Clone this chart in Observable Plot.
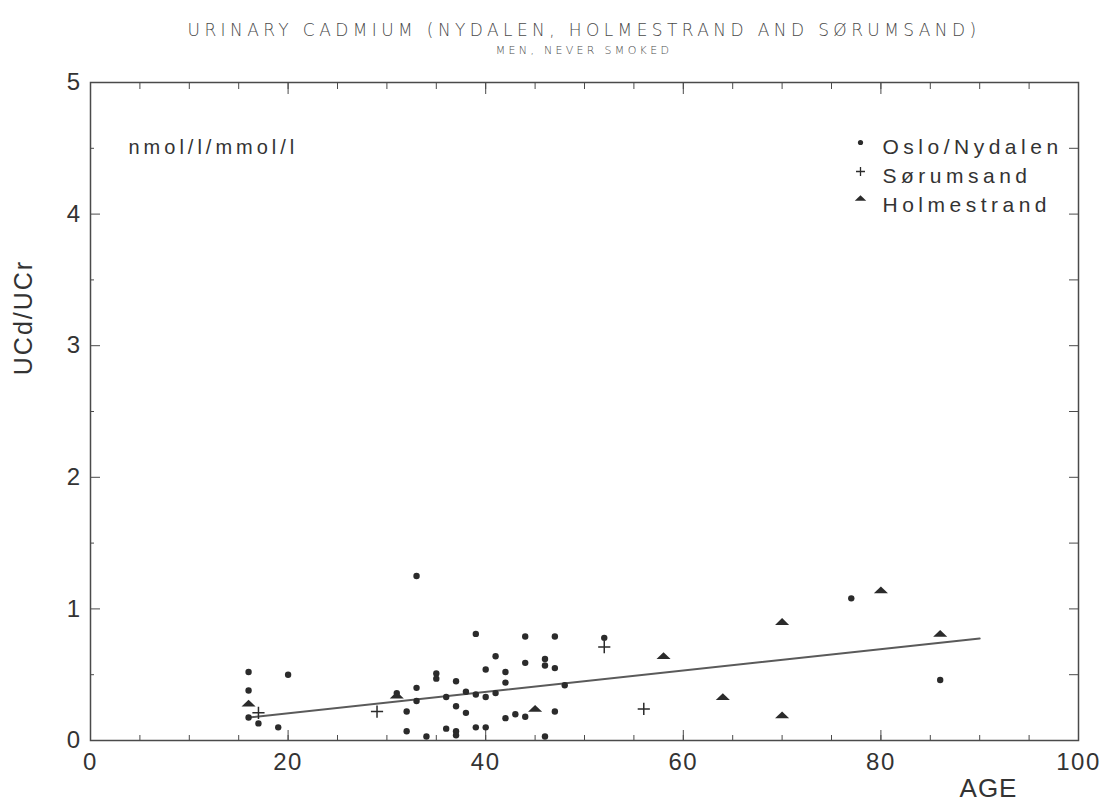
<!DOCTYPE html>
<html>
<head>
<meta charset="utf-8">
<script src="https://cdn.jsdelivr.net/npm/d3@7"></script>
<script src="https://cdn.jsdelivr.net/npm/@observablehq/plot@0.6"></script>
<style>
  body { margin: 0; background: white; }
  #wrap { position: relative; width: 1107px; height: 809px; }
  .abs { position: absolute; white-space: nowrap; line-height: 1; text-align: center; font-family: "DejaVu Sans", sans-serif; color: #4a4a4a; }
  #title { left: 90px; width: 988px; top: 22px; font-size: 17px; letter-spacing: 4.4px; font-weight: 200; }
  #subtitle { left: 90px; width: 988px; top: 45px; font-size: 11px; letter-spacing: 3.3px; font-weight: 300; }
  g[aria-label="x-axis tick label"] text, g[aria-label="y-axis tick label"] text { letter-spacing: 1.5px; }
</style>
</head>
<body>
<div id="wrap">
  <div id="chart"></div>
  <div id="title" class="abs">URINARY CADMIUM (NYDALEN, HOLMESTRAND AND SØRUMSAND)</div>
  <div id="subtitle" class="abs">MEN, NEVER SMOKED</div>
</div>
<script>
// ---- data ----
const osloAge = [16, 16, 16, 17, 19, 20, 31, 32, 32, 33, 33, 33, 34, 35, 35, 36, 36, 37, 37, 37, 37, 38, 38, 39, 39, 39, 40, 40, 40, 41, 41, 42, 42, 42, 43, 44, 44, 44, 46, 46, 46, 47, 47, 47, 48, 52, 77, 86];
const osloVal = [0.52, 0.38, 0.175, 0.13, 0.10, 0.50, 0.36, 0.22, 0.07, 0.40, 0.30, 1.25, 0.03, 0.51, 0.47, 0.33, 0.09, 0.45, 0.26, 0.07, 0.04, 0.37, 0.21, 0.81, 0.35, 0.10, 0.54, 0.33, 0.10, 0.64, 0.36, 0.52, 0.44, 0.17, 0.20, 0.79, 0.59, 0.18, 0.62, 0.57, 0.03, 0.79, 0.55, 0.22, 0.42, 0.78, 1.08, 0.46];
const sorAge = [17, 29, 52, 56];
const sorVal = [0.21, 0.22, 0.71, 0.24];
const holAge = [16, 31, 45, 58, 64, 70, 70, 80, 86];
const holVal = [0.28, 0.34, 0.24, 0.64, 0.33, 0.90, 0.19, 1.14, 0.81];
const fitAge = [16, 90];
const fitVal = [0.175, 0.775];

const xTickLabels = [0, 20, 40, 60, 80, 100];
const xMinorTicks = d3.range(5, 100, 5);
const xMajorTicks = [20, 40, 60, 80];
const yTickLabels = [0, 1, 2, 3, 4, 5];
const yHalfTicks = [0.5, 1.5, 2.5, 3.5, 4.5];
const yRightTicks = d3.range(0.5, 5, 0.5);

const seriesNames = ["Oslo/Nydalen", "Sørumsand", "Holmestrand"];
const unitLabel = "nmol/l/mmol/l";
const yLabel = "UCd/UCr";
const xLabel = "AGE";

const toRows = (ages, vals) => ages.map((a, i) => ({age: a, v: vals[i]}));
const oslo = toRows(osloAge, osloVal);
const sor = toRows(sorAge, sorVal);
const hol = toRows(holAge, holVal);
const fit = toRows(fitAge, fitVal);

// flattened triangle like the plotter glyph
const flatTriangle = {
  draw(context, size) {
    const h = Math.sqrt(size);
    context.moveTo(-0.75 * h, 0.3 * h);
    context.lineTo(0.75 * h, 0.3 * h);
    context.lineTo(0, -0.42 * h);
    context.closePath();
  }
};

const blank = () => "";
const ink = "#2b2b2b";
const axisInk = "#4a4a4a";

const chart = Plot.plot({
  width: 1107,
  height: 809,
  marginLeft: 90,
  marginRight: 29,
  marginTop: 82,
  marginBottom: 69,
  x: {domain: [0, 100]},
  y: {domain: [0, 5]},
  style: {fontFamily: "'Liberation Sans', Arial, sans-serif", fontSize: "24px", color: "#333", background: "white"},
  marks: [
    Plot.frame({stroke: axisInk, strokeWidth: 1.5}),
    Plot.axisX({ticks: xTickLabels, tickSize: 0, tickPadding: 12, fontSize: 24, label: null}),
    Plot.axisX({ticks: xMinorTicks, tickSize: -5, tickFormat: blank, label: null, stroke: axisInk}),
    Plot.axisX({ticks: xMajorTicks, tickSize: -10, tickFormat: blank, label: null, stroke: axisInk}),
    Plot.axisX({anchor: "top", ticks: xMinorTicks, tickSize: -6, tickFormat: blank, label: null, stroke: axisInk}),
    Plot.axisX({anchor: "top", ticks: xMajorTicks, tickSize: -11, tickFormat: blank, label: null, stroke: axisInk}),
    Plot.axisY({ticks: yTickLabels, tickSize: -10, tickPadding: 19, tickFormat: "d", fontSize: 24, label: null, stroke: axisInk}),
    Plot.axisY({ticks: yHalfTicks, tickSize: -4, tickFormat: blank, label: null, stroke: axisInk}),
    Plot.axisY({anchor: "right", ticks: yRightTicks, tickSize: -10, tickFormat: blank, label: null, stroke: axisInk}),
    Plot.line(fit, {x: "age", y: "v", stroke: "#5a5a5a", strokeWidth: 2}),
    Plot.dot(oslo, {x: "age", y: "v", r: 3.2, fill: ink, symbol: "circle"}),
    Plot.dot(sor, {x: "age", y: "v", r: 4, stroke: ink, strokeWidth: 1.5, symbol: "plus"}),
    Plot.dot(hol, {x: "age", y: "v", r: 5.3, fill: ink, symbol: flatTriangle}),
    Plot.text([unitLabel], {frameAnchor: "top-left", dx: 38, dy: 57, fontSize: 20, fill: "#333", textAnchor: "start"}),
    Plot.text([yLabel], {frameAnchor: "left", dx: -67, dy: -94, rotate: -90, fontSize: 25, fill: "#333", textAnchor: "middle"}),
    Plot.text([xLabel], {frameAnchor: "bottom-right", dx: -90, dy: 56, fontSize: 26, fill: "#333", textAnchor: "middle"}),
    // legend
    Plot.text([seriesNames[0]], {frameAnchor: "top-right", dx: -196, dy: 57, textAnchor: "start", fontSize: 21, fill: "#333"}),
    Plot.text([seriesNames[1]], {frameAnchor: "top-right", dx: -196, dy: 86, textAnchor: "start", fontSize: 21, fill: "#333"}),
    Plot.text([seriesNames[2]], {frameAnchor: "top-right", dx: -196, dy: 115, textAnchor: "start", fontSize: 21, fill: "#333"}),
    Plot.dot([0], {frameAnchor: "top-right", dx: -218, dy: 60, r: 2.6, fill: ink, symbol: "circle"}),
    Plot.dot([0], {frameAnchor: "top-right", dx: -218, dy: 89, r: 3, stroke: ink, strokeWidth: 1.3, symbol: "plus"}),
    Plot.dot([0], {frameAnchor: "top-right", dx: -218, dy: 116, r: 4.3, fill: ink, symbol: flatTriangle})
  ]
});
document.getElementById("chart").appendChild(chart);

// letter spacing to mimic the wide lettering of the original
const spacing = {[unitLabel]: "4px", [yLabel]: "2px", [xLabel]: "1px"};
seriesNames.forEach(n => spacing[n] = "4.5px");
d3.select(chart).selectAll("text").each(function() {
  const s = spacing[this.textContent];
  if (s) this.style.letterSpacing = s;
});
</script>
</body>
</html>
